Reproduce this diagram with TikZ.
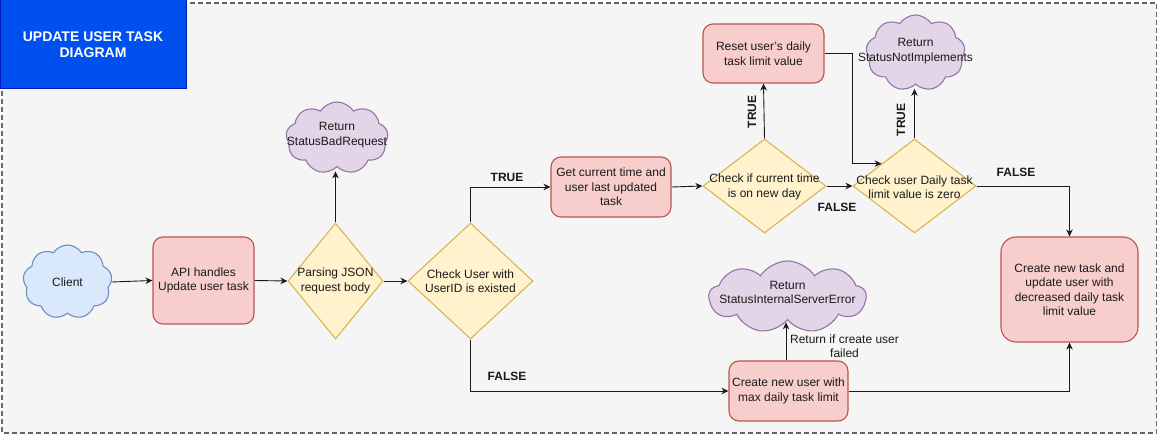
\documentclass[tikz,border=0pt]{standalone}
\usepackage{fontspec}
\setmainfont{Liberation Sans}
\usetikzlibrary{shapes.geometric,shapes.symbols,arrows.meta,calc}
\definecolor{bgc}{HTML}{F5F5F5}
\definecolor{frame}{HTML}{666666}
\definecolor{titlef}{HTML}{0050EF}
\definecolor{titled}{HTML}{001DBC}
\definecolor{redf}{HTML}{F8CECC}
\definecolor{redd}{HTML}{B85450}
\definecolor{yelf}{HTML}{FFF2CC}
\definecolor{yeld}{HTML}{D6B656}
\definecolor{bluef}{HTML}{DAE8FC}
\definecolor{blued}{HTML}{6C8EBF}
\definecolor{purf}{HTML}{E1D5E7}
\definecolor{purd}{HTML}{9673A6}
\definecolor{ink}{HTML}{1A1A1A}
\begin{document}
\begin{tikzpicture}[x=1pt,y=-1pt,
  every node/.style={font=\fontsize{12}{14.5}\selectfont, text=ink, align=center},
  procbox/.style={draw=redd, fill=redf, line width=1.1pt, rounded corners=10pt, inner sep=0pt},
  decis/.style={diamond, draw=yeld, fill=yelf, line width=1.1pt, inner sep=0pt},
  cloudy/.style={cloud, cloud puffs=9, cloud puff arc=115, cloud ignores aspect, line width=1.1pt, inner sep=0pt},
  arr/.style={draw=ink, line width=0.9pt, -{Stealth[length=7pt,width=6.5pt]}},
  flag/.style={font=\bfseries\fontsize{12}{14}\selectfont}
]
\useasboundingbox (0,0) rectangle (1159,435);
% background frame
\draw[fill=bgc, draw=frame, line width=1.3pt, dash pattern=on 5pt off 3pt] (2,3) rectangle (1156.5,433);
% title
\node[draw=titled, fill=titlef, line width=1pt, minimum width=186, minimum height=89, inner sep=0pt,
  text=white, font=\bfseries\fontsize{14}{16.5}\selectfont] (title) at (93,44.5) {UPDATE USER TASK\\DIAGRAM};

% nodes
\node[cloudy, draw=blued, fill=bluef, minimum width=89, minimum height=74] (client) at (67.5,282) {};
\node (clienttxt) at (client.center) {Client};

\node[procbox, minimum width=101, minimum height=87] (api) at (203.5,280.5) {API handles\\Update user task};

\node[decis, minimum width=95, minimum height=116] (parse) at (335.5,281) {};
\node (parsetxt) at (parse.center) {Parsing JSON\\request body};

\node[cloudy, draw=purd, fill=purf, minimum width=102, minimum height=72] (bad) at (337,138) {};
\node (badtxt) at (337,135) {Return\\StatusBadRequest};

\node[decis, minimum width=125, minimum height=116] (check) at (470.5,281) {};
\node (checktxt) at (check.center) {Check User with\\UserID is existed};

\node[procbox, minimum width=120, minimum height=60] (gettime) at (611,187) {Get current time and\\user last updated\\task};

\node[decis, minimum width=123, minimum height=94] (newday) at (764.5,186) {};
\node (newdaytxt) at (764.5,187) {Check if current time\\is on new day};

\node[procbox, minimum width=121, minimum height=59] (reset) at (763.5,53.5) {Reset user's daily\\task limit value};

\node[decis, minimum width=123, minimum height=94] (zero) at (914.5,186) {};
\node (zerotxt) at (914.5,187) {Check user Daily task\\limit value is zero};

\node[cloudy, draw=purd, fill=purf, minimum width=99, minimum height=76] (notimpl) at (915.5,53) {};
\node (notimpltxt) at (915.5,51) {Return\\StatusNotImplements};

\node[procbox, rounded corners=15pt, minimum width=137, minimum height=105] (final) at (1069.5,289.5) {Create new task and\\update user with\\decreased daily task\\limit value};

\node[procbox, minimum width=119, minimum height=60] (newuser) at (788.5,391) {Create new user with\\max daily task limit};

\node[cloudy, draw=purd, fill=purf, minimum width=157, minimum height=72] (ise) at (787.5,297) {};
\node (isetxt) at (787.5,292.5) {Return\\StatusInternalServerError};

% connectors
\draw[arr] (client.east) -- (api.west);
\draw[arr] (api.east) -- (parse.west);
\draw[arr] (parse.east) -- (check.west);
\draw[arr] (parse.north) -- ($(parse.north |- bad.south)+(0,4)$);
\draw[arr] (check.north) |- (gettime.west);
\node[flag] (t1) at (507,177) {TRUE};
\draw[arr] (gettime.east) -- (newday.west);
\draw[arr] (newday.north) -- (reset.south);
\node[flag, rotate=90] (t2) at (752,112) {TRUE};
\draw[arr] (newday.east) -- (zero.west);
\node[flag] (f1) at (837,207) {FALSE};
\coordinate (zin) at ($(zero.west)!0.47!(zero.north)$);
\draw[arr] (reset.east) -- (zero.west |- reset.east) -- (zero.west |- zin) -- (zin);
\draw[arr] (zero.north) -- ($(zero.north |- notimpl.south)+(0,4)$);
\node[flag, rotate=90] (t3) at (901,120) {TRUE};
\draw[arr] (zero.east) -| (final.north);
\node[flag] (f2) at (1016,172) {FALSE};
\draw[arr] (check.south) |- (newuser.west);
\node[flag] (f3) at (507,376) {FALSE};
\draw[arr] (newuser.east) -| (final.south);
\coordinate (nu) at ($(newuser.north)+(-2.5,0)$);
\draw[arr] (nu) -- ($(nu |- ise.south)+(0,2)$);
\node (lbl) at (844.5,346) {Return if create user\\failed};
\end{tikzpicture}
\end{document}
